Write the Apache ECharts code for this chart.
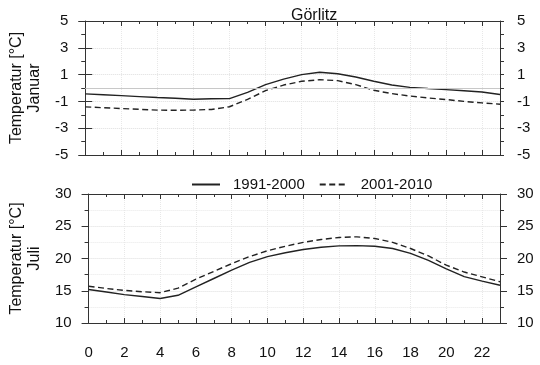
<!DOCTYPE html>
<html>
<head>
<meta charset="utf-8">
<script src="https://cdn.jsdelivr.net/npm/echarts@6/dist/echarts.min.js"></script>
<style>html,body{margin:0;padding:0;background:#fff;}#c{width:540px;height:365px;}</style>
</head>
<body>
<div id="c"></div>
<script>
var hours = [0,1,2,3,4,5,6,7,8,9,10,11,12,13,14,15,16,17,18,19,20,21,22,23];
var seriesNames = ['1991-2000', '2001-2010'];
var janSolid = [-0.44,-0.5,-0.57,-0.64,-0.71,-0.77,-0.84,-0.8,-0.79,-0.32,0.25,0.66,1.0,1.18,1.06,0.82,0.5,0.22,0.05,-0.04,-0.12,-0.2,-0.3,-0.49];
var janDashed = [-1.41,-1.47,-1.53,-1.59,-1.65,-1.66,-1.65,-1.6,-1.4,-0.85,-0.2,0.22,0.5,0.62,0.55,0.25,-0.17,-0.42,-0.6,-0.74,-0.86,-1.0,-1.11,-1.21];
var julSolid = [15.2,14.8,14.4,14.1,13.8,14.3,15.6,16.9,18.2,19.4,20.3,20.9,21.4,21.75,21.95,22.0,21.9,21.55,20.8,19.7,18.4,17.2,16.5,15.85];
var julDashed = [15.7,15.35,15.05,14.85,14.7,15.4,16.8,18.0,19.2,20.3,21.2,21.9,22.5,22.95,23.26,23.36,23.1,22.5,21.55,20.4,18.96,17.9,17.15,16.4];
var janMajorTicks = [-5,-3,-1,1,3,5];
var titleText = 'Görlitz';
var janName = 'Temperatur [°C]\nJanuar';
var julName = 'Temperatur [°C]\nJuli';

function pairs(arr){ return hours.map(function(h,i){ return [h, arr[i]]; }); }

var FONT = 'Liberation Sans, Arial, sans-serif';
var AX = '#333';
var TXT = '#111';

function xAxis(grid, pos, showLabel, showSplit){
  return {
    type:'value', gridIndex:grid, position:pos, min:0, max:23, interval:2,
    axisLine:{show:true, onZero:false, lineStyle:{color:AX, width:1}},
    axisTick:{show:true, inside:true, length:5, lineStyle:{color:AX}},
    minorTick:{show:true, splitNumber:2, length:3, lineStyle:{color:AX}},
    axisLabel:{show:showLabel, margin:22, fontSize:15, color:TXT, fontFamily:FONT,
      formatter:function(v){ return (v % 2 === 0) ? String(v) : ''; }},
    splitLine:{show:showSplit, lineStyle:{color:'#e8e8e8', type:'dotted', width:1}}
  };
}
function janAxis(pos, main){
  return {
    type:'value', gridIndex:0, position:pos, min:-5, max:5, interval:1,
    axisLine:{show:main, onZero:false, lineStyle:{color:AX}},
    axisTick:{show:true, inside:false, length:4, lineStyle:{color:AX}},
    axisLabel:{show:main, margin:17, fontSize:15, color:TXT, fontFamily:FONT,
      formatter:function(v){ return (Math.abs(Math.round(v)) % 2 === 1) ? String(v) : ''; }},
    splitLine:{show: main && pos==='left', lineStyle:{color:['#dedede','rgba(0,0,0,0)'], type:'dotted', width:1}},
    name: (main && pos==='left') ? janName : '',
    nameLocation:'middle', nameRotate:90, nameGap:37,
    nameTextStyle:{fontSize:16, color:TXT, fontFamily:FONT, lineHeight:18}
  };
}
function janMajor(pos){
  return {
    type:'value', gridIndex:0, position:pos, min:-5, max:5, interval:1,
    axisLine:{show:false},
    axisTick:{show:true, inside:false, length:7, customValues:janMajorTicks, lineStyle:{color:AX}},
    axisLabel:{show:false},
    splitLine:{show:false}
  };
}
function julAxis(pos){
  return {
    type:'value', gridIndex:1, position:pos, min:10, max:30, interval:5,
    axisLine:{show:true, onZero:false, lineStyle:{color:AX}},
    axisTick:{show:true, inside:false, length:7, lineStyle:{color:AX}},
    minorTick:{show:true, splitNumber:2, length:4, lineStyle:{color:AX}},
    axisLabel:{show:true, margin:17, fontSize:15, color:TXT, fontFamily:FONT},
    splitLine:{show: pos==='left', lineStyle:{color:'#dedede', type:'dotted', width:1}},
    minorSplitLine:{show: pos==='left', lineStyle:{color:'#e8e8e8', type:'dotted', width:1}},
    name: pos==='left' ? julName : '',
    nameLocation:'middle', nameRotate:90, nameGap:37,
    nameTextStyle:{fontSize:16, color:TXT, fontFamily:FONT, lineHeight:18}
  };
}

var lineBase = function(name, data, xi, yi, dashed){
  return {
    type:'line', name:name, data:pairs(data), xAxisIndex:xi, yAxisIndex:yi,
    symbol:'none', smooth:false, silent:true, animation:false,
    lineStyle:{color:'#222', width:1.4, type: dashed ? [6,3.5] : 'solid'},
    itemStyle:{color:'#222'}
  };
};

var s0 = lineBase(seriesNames[0], janSolid, 0, 0, false);
s0.markLine = {silent:true, symbol:['none','none'], label:{show:false},
  lineStyle:{color:'#c8c8c8', type:'solid', width:1}, data:[{yAxis:0}], animation:false};

var option = {
  animation:false,
  backgroundColor:'#fff',
  textStyle:{fontFamily:FONT},
  title:{text:titleText, left:286, top:3, textStyle:{fontSize:16, fontWeight:'normal', color:TXT, fontFamily:FONT}},
  legend:{data:seriesNames, top:172, left:186, itemWidth:28, itemHeight:12, itemGap:14,
    itemStyle:{opacity:0},
    textStyle:{fontSize:15, color:TXT, fontFamily:FONT, padding:[0,0,0,8]}},
  grid:[
    {left:82, top:21, width:418, height:134},
    {left:82, top:194, width:418, height:129}
  ],
  xAxis:[
    xAxis(0,'bottom',false,true),
    xAxis(0,'top',false,false),
    xAxis(1,'bottom',true,true),
    xAxis(1,'top',false,false)
  ],
  yAxis:[
    janAxis('left', true),
    janMajor('left'),
    janAxis('right', true),
    janMajor('right'),
    julAxis('left'),
    julAxis('right')
  ],
  series:[
    s0,
    lineBase(seriesNames[1], janDashed, 0, 0, true),
    lineBase(seriesNames[0], julSolid, 2, 4, false),
    lineBase(seriesNames[1], julDashed, 2, 4, true)
  ]
};
var chart = echarts.init(document.getElementById('c'), null, {renderer:'canvas'});
chart.setOption(option);
</script>
</body>
</html>
